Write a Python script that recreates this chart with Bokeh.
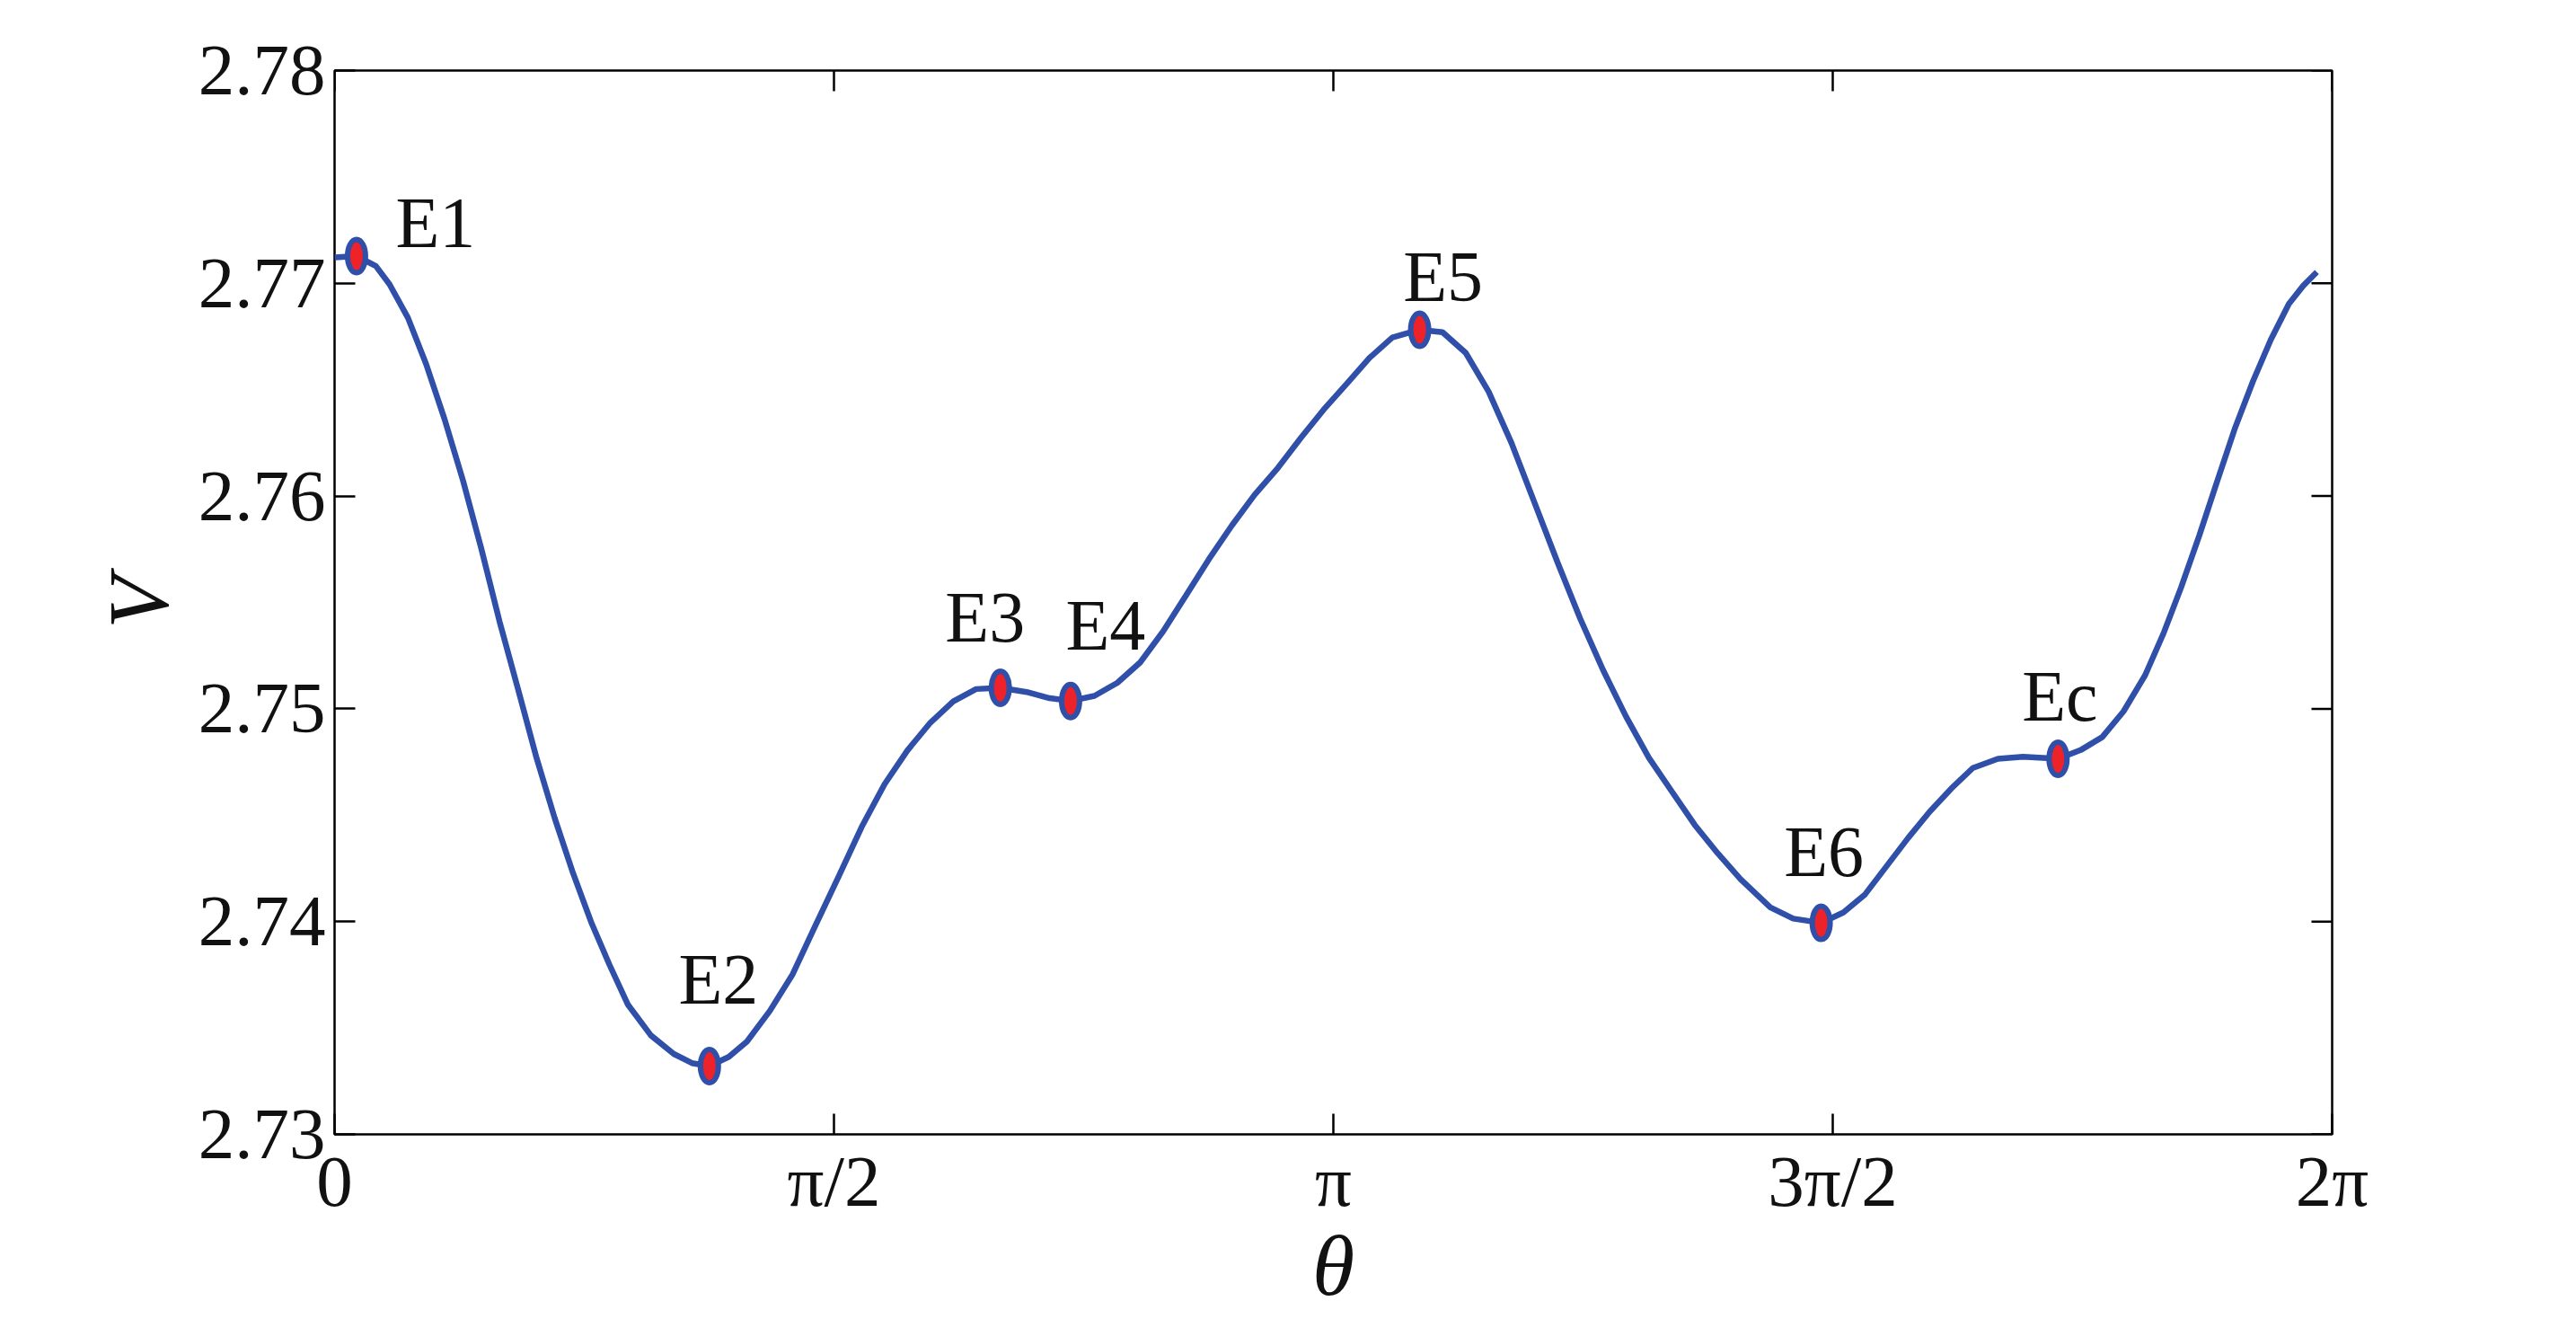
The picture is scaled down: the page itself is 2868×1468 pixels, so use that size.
import numpy as np
from bokeh.plotting import figure
from bokeh.models import ColumnDataSource, FixedTicker, Range1d
from bokeh.core.properties import value
from bokeh.embed import file_html
from bokeh.resources import INLINE

PI = np.pi

# curve V(theta)
theta = [0.000, 0.069, 0.130, 0.173, 0.231, 0.288, 0.346, 0.404, 0.461, 0.519,
         0.577, 0.634, 0.692, 0.750, 0.807, 0.865, 0.923, 0.995, 1.067, 1.124,
         1.179, 1.240, 1.297, 1.369, 1.441, 1.513, 1.586, 1.658, 1.730, 1.802,
         1.874, 1.946, 2.018, 2.094, 2.177, 2.249, 2.315, 2.390, 2.462, 2.534,
         2.606, 2.678, 2.750, 2.822, 2.894, 2.967, 3.039, 3.111, 3.183, 3.255,
         3.327, 3.413, 3.485, 3.558, 3.630, 3.702, 3.774, 3.846, 3.918, 3.990,
         4.062, 4.134, 4.206, 4.278, 4.350, 4.422, 4.516, 4.588, 4.676, 4.746,
         4.814, 4.882, 4.950, 5.017, 5.085, 5.153, 5.232, 5.311, 5.421, 5.492,
         5.560, 5.627, 5.695, 5.752, 5.808, 5.865, 5.921, 5.978, 6.034, 6.090,
         6.147, 6.192, 6.235]
V = [2.77122, 2.77128, 2.77081, 2.76995, 2.76837, 2.76620, 2.76361, 2.76073, 2.75756, 2.75410,
     2.75093, 2.74776, 2.74488, 2.74228, 2.73998, 2.73796, 2.73609, 2.73465, 2.73378, 2.73335,
     2.73321, 2.73364, 2.73436, 2.73580, 2.73753, 2.73983, 2.74214, 2.74445, 2.74646, 2.74805,
     2.74935, 2.75035, 2.75093, 2.75099, 2.75079, 2.75050, 2.75037, 2.75061, 2.75122, 2.75218,
     2.75364, 2.75533, 2.75703, 2.75861, 2.76006, 2.76132, 2.76273, 2.76406, 2.76527, 2.76649,
     2.76745, 2.76782, 2.76770, 2.76673, 2.76491, 2.76249, 2.75970, 2.75691, 2.75424, 2.75182,
     2.74964, 2.74770, 2.74612, 2.74455, 2.74322, 2.74200, 2.74067, 2.74014, 2.73994, 2.74043,
     2.74128, 2.74261, 2.74394, 2.74516, 2.74625, 2.74722, 2.74765, 2.74775, 2.74765, 2.74806,
     2.74867, 2.74988, 2.75158, 2.75352, 2.75570, 2.75813, 2.76067, 2.76321, 2.76539, 2.76734,
     2.76903, 2.76988, 2.77053]

# equilibrium points
eq_labels = ["E1", "E2", "E3", "E4", "E5", "E6", "Ec"]
eq_theta = [0.069, 1.179, 2.094, 2.315, 3.413, 4.676, 5.421]
eq_V = [2.77128, 2.73321, 2.75099, 2.75037, 2.76782, 2.73994, 2.74765]
lab_dx = [88, 10, -17, 39, 26, 3, 2]
lab_dy = [-37, -96, -78, -84, -59, -79, -70]

x_ticks = [0, PI / 2, PI, 3 * PI / 2, 2 * PI]
x_tick_labels = ["0", "π/2", "π", "3π/2", "2π"]
y_ticks = [2.73, 2.74, 2.75, 2.76, 2.77, 2.78]

FONT = "Liberation Serif"

p = figure(frame_width=2224, frame_height=1184, output_backend="svg",
           toolbar_location=None, x_range=Range1d(0, 2 * PI),
           y_range=Range1d(2.73, 2.78),
           min_border_left=372, min_border_top=78, min_border_right=250,
           min_border_bottom=180)
p.background_fill_color = "white"
p.border_fill_color = "white"
p.grid.visible = False
p.outline_line_color = "black"
p.outline_line_width = 2.5

p.line(theta, V, line_color="#2F4FA8", line_width=6.5)

# inward ticks on the top and right frame edges (half of each dash is clipped by the frame)
top_src = ColumnDataSource(dict(x=x_ticks, y=[2.78] * len(x_ticks)))
p.scatter(x="x", y="y", source=top_src, marker="dash", size=46, angle=PI / 2,
          line_color="black", line_width=2.5)
right_src = ColumnDataSource(dict(x=[2 * PI] * len(y_ticks), y=y_ticks))
p.scatter(x="x", y="y", source=right_src, marker="dash", size=46,
          line_color="black", line_width=2.5)

src = ColumnDataSource(dict(x=eq_theta, y=eq_V, t=eq_labels, dx=lab_dx, dy=lab_dy))
p.ellipse(x="x", y="y", width=20, height=37, width_units="screen",
          height_units="screen", source=src, fill_color="#EE2229",
          line_color="#2F4FA8", line_width=6)
p.text(x="x", y="y", text="t", x_offset="dx", y_offset="dy", source=src,
       text_font=value(FONT), text_font_size="80px", text_align="center",
       text_baseline="middle", text_color="#111111")

# axes
overrides = {float(k): v for k, v in zip(x_ticks, x_tick_labels)}
xa = p.xaxis[0]
ya = p.yaxis[0]
xa.ticker = FixedTicker(ticks=x_ticks)
xa.major_label_overrides = overrides
ya.ticker = FixedTicker(ticks=y_ticks)
ya.formatter.use_scientific = False

for ax in (xa, ya):
    ax.axis_line_color = None
    ax.major_tick_in = 23
    ax.major_tick_out = 0
    ax.major_tick_line_color = "black"
    ax.major_tick_line_width = 2.5
    ax.minor_tick_line_color = None
    ax.major_label_text_font = FONT
    ax.major_label_text_font_size = "81px"
    ax.major_label_text_color = "#111111"
    ax.axis_label_text_font = FONT
    ax.axis_label_text_font_style = "italic"
    ax.axis_label_text_font_size = "96px"
    ax.axis_label_text_color = "#111111"

xa.major_label_standoff = 7
ya.major_label_standoff = 10
xa.axis_label = "θ"
ya.axis_label = "V"
xa.axis_label_standoff = -8
ya.axis_label_standoff = 10

open("out.html", "w").write(file_html(p, INLINE))
